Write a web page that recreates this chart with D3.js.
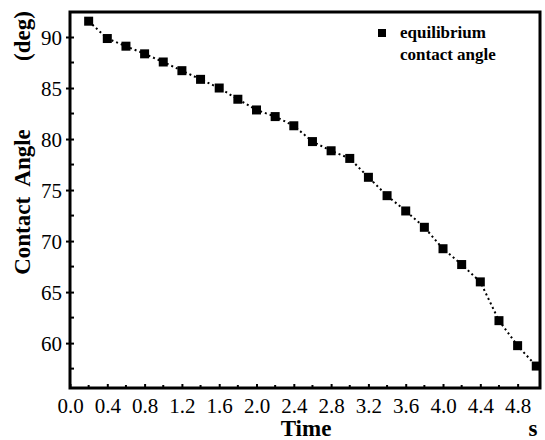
<!DOCTYPE html>
<html>
<head>
<meta charset="utf-8">
<script src="https://cdn.jsdelivr.net/npm/d3@7"></script>
<style>
  body { margin: 0; background: #fff; }
  svg text { font-family: "Liberation Serif", "Times New Roman", serif !important; }
</style>
</head>
<body>
<div class="chart"></div>
<script>
// time (s) and equilibrium contact angle (deg)
let times = [0.2, 0.4, 0.6, 0.8, 1.0, 1.2, 1.4, 1.6, 1.8, 2.0, 2.2, 2.4, 2.6,
             2.8, 3.0, 3.2, 3.4, 3.6, 3.8, 4.0, 4.2, 4.4, 4.6, 4.8, 5.0];
let angles = [91.55, 89.85, 89.1, 88.35, 87.55, 86.7, 85.85, 85.0, 83.9, 82.85, 82.2, 81.3, 79.75,
              78.85, 78.1, 76.25, 74.45, 72.95, 71.35, 69.25, 67.7, 66.0, 62.2, 59.75, 57.75];
let xTicks = [0.0, 0.4, 0.8, 1.2, 1.6, 2.0, 2.4, 2.8, 3.2, 3.6, 4.0, 4.4, 4.8];
let yTicks = [60, 65, 70, 75, 80, 85, 90];
let legendLabel = ["equilibrium", "contact angle"];

let data = times.map((t, i) => ({t: t, v: angles[i]}));

let margin = {top: 12, right: 5, bottom: 52, left: 70};
let width = 545 - margin.left - margin.right,
    height = 440 - margin.top - margin.bottom;

let svg = d3.select(".chart").append("svg")
    .attr("width", 545)
    .attr("height", 440)
  .append("g")
    .attr("transform", "translate(" + margin.left + "," + margin.top + ")");

const xScale = d3.scaleLinear().range([0, width]).domain([0, 5.04]);
const yScale = d3.scaleLinear().range([height, 0]).domain([55.6, 92.45]);

// minor ticks
svg.append("g")
  .selectAll("line")
  .data(d3.range(0.2, 5.0, 0.4))
  .join("line")
    .attr("x1", d => xScale(d)).attr("x2", d => xScale(d))
    .attr("y1", height).attr("y2", height - 3)
    .attr("stroke", "#000").attr("stroke-width", 2);

svg.append("g")
  .selectAll("line")
  .data([57.5, 62.5, 67.5, 72.5, 77.5, 82.5, 87.5])
  .join("line")
    .attr("x1", 0).attr("x2", 4)
    .attr("y1", d => yScale(d)).attr("y2", d => yScale(d))
    .attr("stroke", "#000").attr("stroke-width", 2);

// x axis
let xAxis = svg.append("g")
    .attr("transform", `translate(0, ${height})`)
    .call(d3.axisBottom(xScale).tickValues(xTicks).tickFormat(d3.format(".1f"))
      .tickSizeInner(-4).tickSizeOuter(0).tickPadding(10));
xAxis.attr("font-family", null).attr("font-size", 21);
xAxis.select(".domain").remove();
xAxis.selectAll(".tick line").attr("stroke-width", 2);
xAxis.selectAll("text").attr("fill", "#000");

// y axis
let yAxis = svg.append("g")
    .call(d3.axisLeft(yScale).tickValues(yTicks)
      .tickSizeInner(5).tickSizeOuter(0).tickPadding(3));
yAxis.attr("font-family", null).attr("font-size", 21);
yAxis.select(".domain").remove();
yAxis.selectAll(".tick line").attr("x2", -4).attr("x1", 4).attr("stroke-width", 2);
yAxis.selectAll("text").attr("fill", "#000").attr("dy", "0.35em");

// frame
svg.append("rect")
    .attr("x", 0).attr("y", 0)
    .attr("width", width).attr("height", height)
    .attr("fill", "none")
    .attr("stroke", "#000")
    .attr("stroke-width", 3);

// dotted line
svg.append("path")
    .datum(data)
    .attr("fill", "none")
    .attr("stroke", "#000")
    .attr("stroke-width", 2)
    .attr("stroke-dasharray", "2,3")
    .attr("d", d3.line()
        .x(function(d) { return xScale(d.t) })
        .y(function(d) { return yScale(d.v) }));

// markers
svg.selectAll(".pt")
  .data(data)
  .join("rect")
    .attr("class", "pt")
    .attr("x", d => xScale(d.t) - 4.5)
    .attr("y", d => yScale(d.v) - 4.5)
    .attr("width", 9).attr("height", 9)
    .attr("fill", "#000");

// legend
svg.append("rect")
    .attr("x", 308).attr("y", 17)
    .attr("width", 8).attr("height", 8)
    .attr("fill", "#000");
svg.selectAll(".leg")
  .data(legendLabel)
  .join("text")
    .attr("class", "leg")
    .attr("x", 330)
    .attr("y", (d, i) => 26 + i * 22)
    .attr("font-size", 17)
    .attr("font-weight", "bold")
    .text(d => d);

// axis titles
svg.append("text")
    .attr("x", 236).attr("y", height + 48)
    .attr("text-anchor", "middle")
    .attr("font-size", 23).attr("font-weight", "bold")
    .text("Time");
svg.append("text")
    .attr("x", 463).attr("y", height + 48)
    .attr("text-anchor", "middle")
    .attr("font-size", 23).attr("font-weight", "bold")
    .text("s");

svg.append("text")
    .attr("transform", "translate(-40, 190) rotate(-90)")
    .attr("text-anchor", "middle")
    .attr("font-size", 23).attr("font-weight", "bold")
    .attr("xml:space", "preserve")
    .text("Contact  Angle");
svg.append("text")
    .attr("transform", "translate(-40, 24) rotate(-90)")
    .attr("text-anchor", "middle")
    .attr("font-size", 23).attr("font-weight", "bold")
    .text("(deg)");
</script>
</body>
</html>
